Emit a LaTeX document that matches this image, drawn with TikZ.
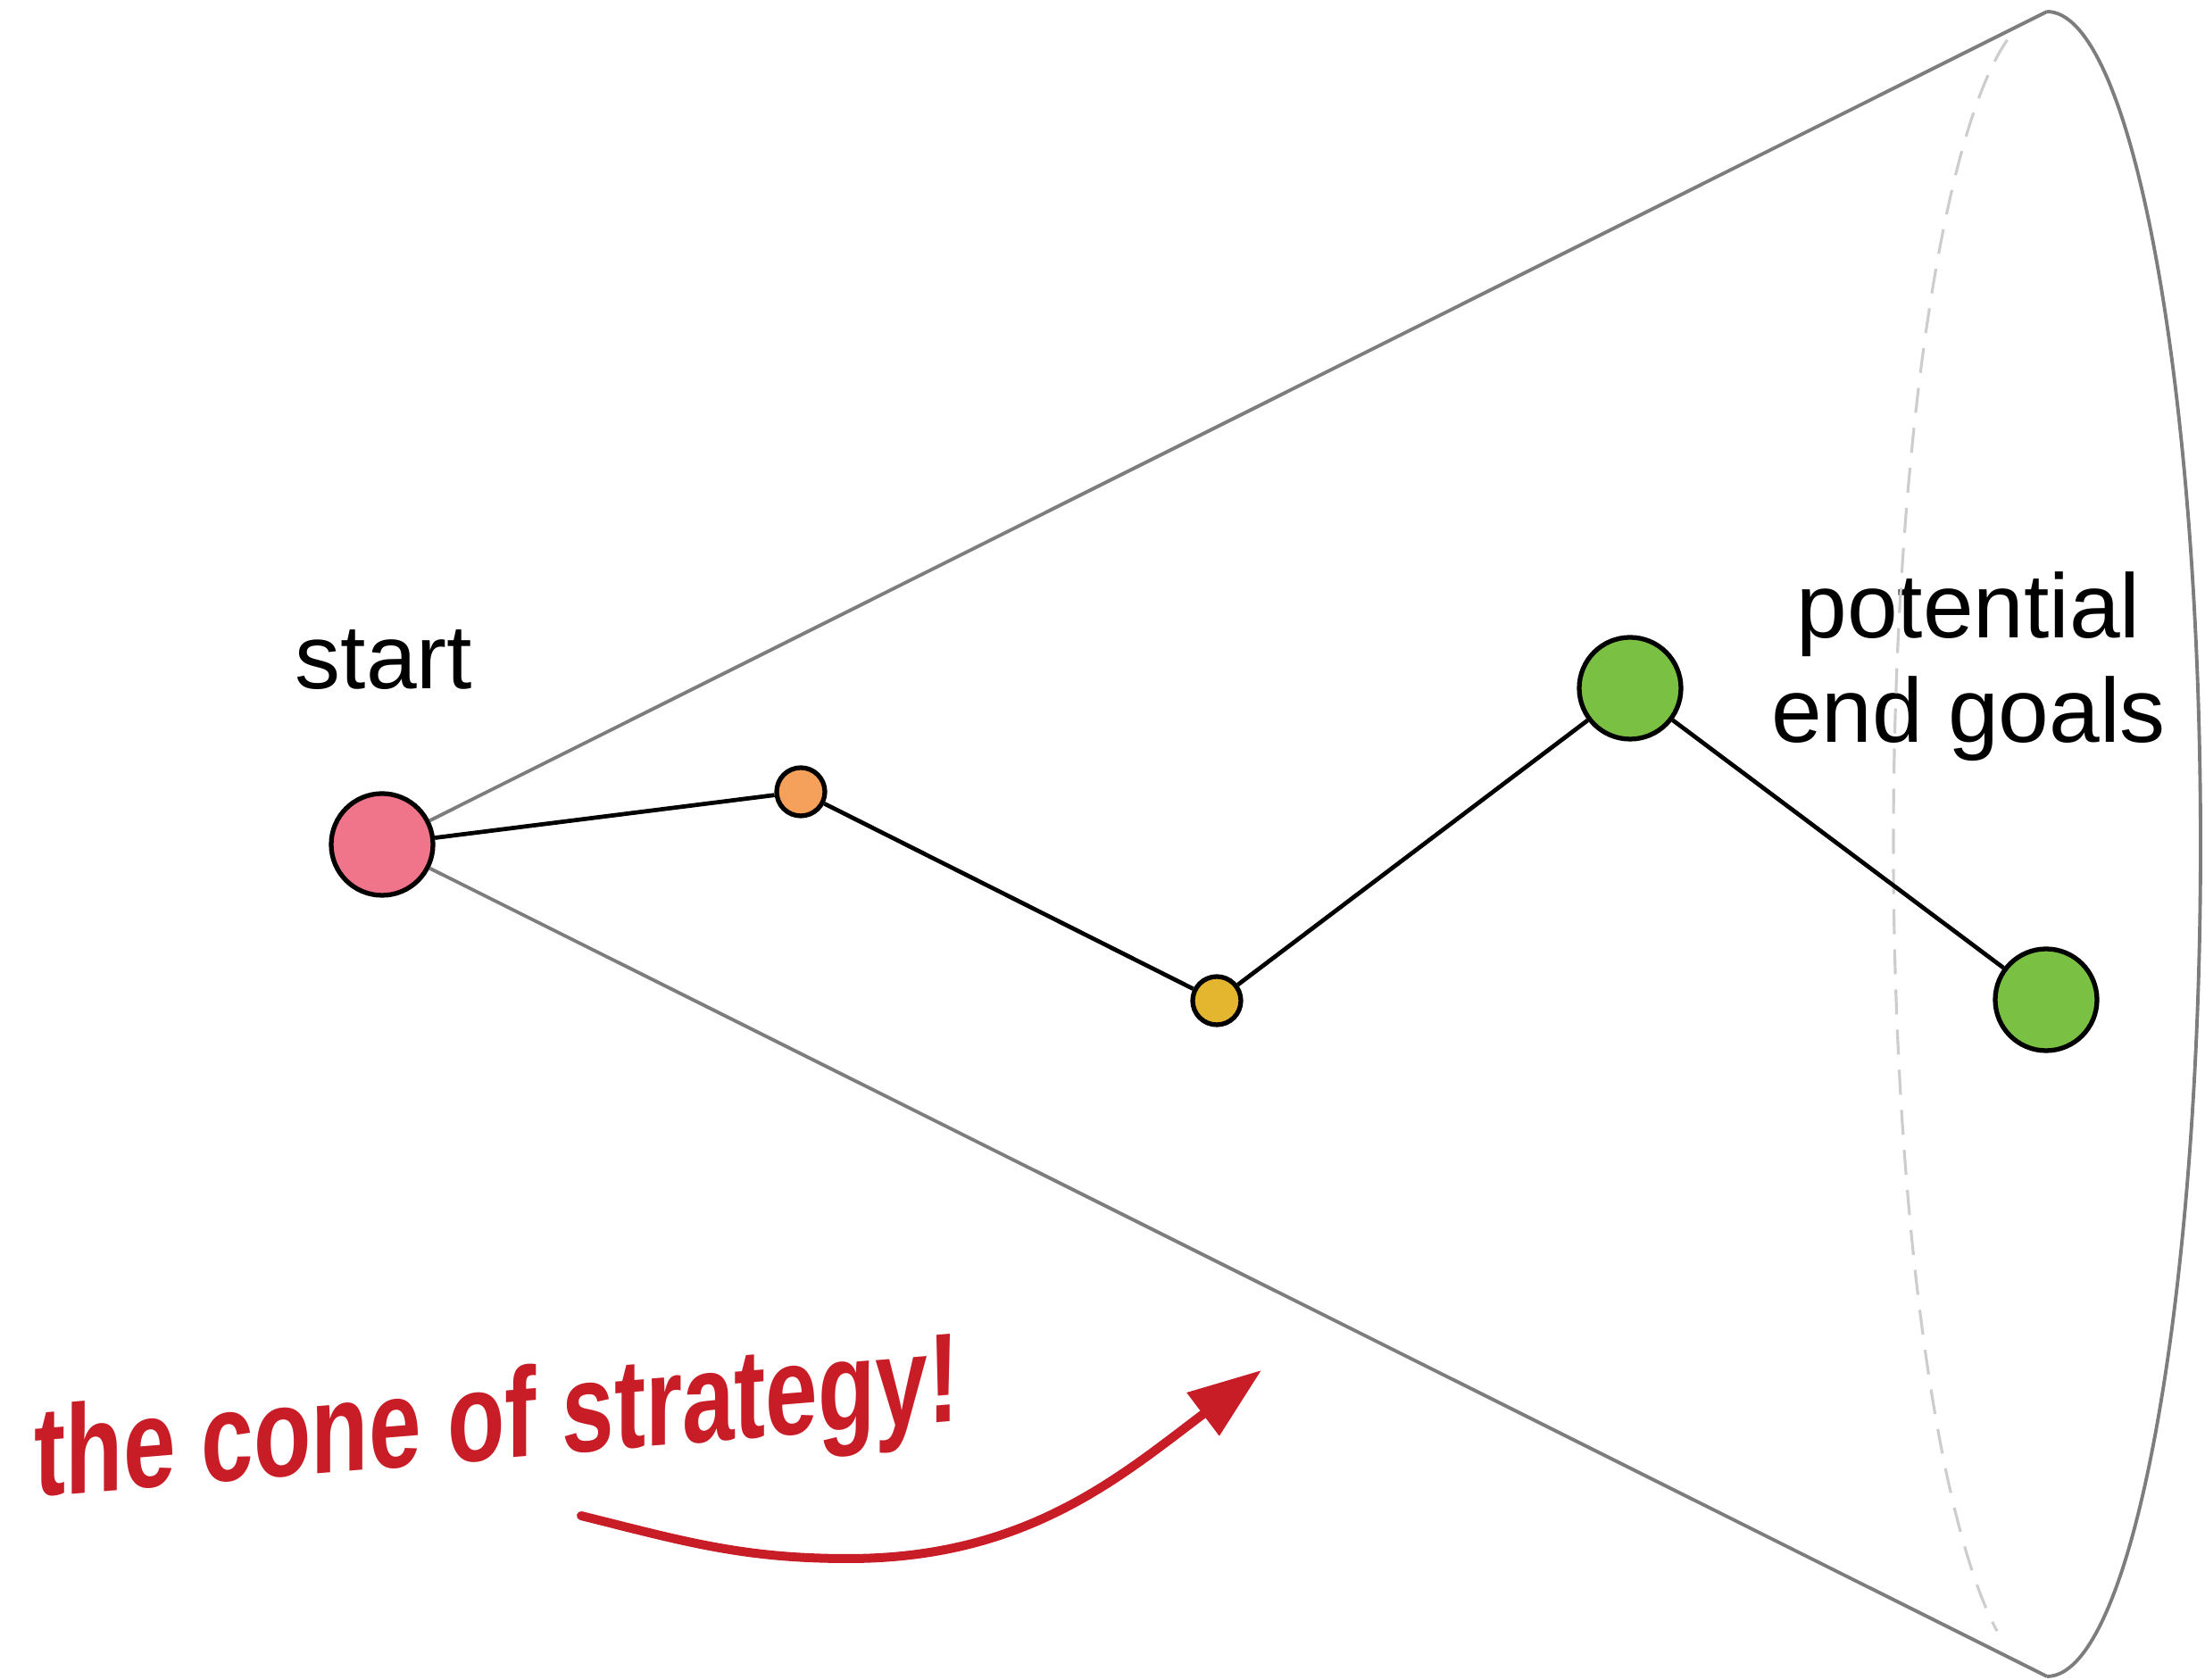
\documentclass[tikz,border=0pt]{standalone}
\usepackage{fontspec}
\setmainfont{Liberation Sans}
\newfontfamily\markerfont{Liberation Sans}[FakeStretch=0.74]
\usepackage{xcolor}
\usepackage{tikz}
\usetikzlibrary{arrows.meta}

\definecolor{startpink}{RGB}{241,117,138}
\definecolor{midorange}{RGB}{246,161,91}
\definecolor{midyellow}{RGB}{228,181,47}
\definecolor{goalgreen}{RGB}{122,193,67}
\definecolor{markerred}{RGB}{200,28,38}

\begin{document}
\begin{tikzpicture}
	\useasboundingbox (0,0) rectangle (24.70,18.82);
						\tikzstyle{vertex}=[circle,draw=black,line width=1.5pt,inner sep=0pt]
						\tikzstyle{big}=[vertex,minimum size=1.14cm]
						\tikzstyle{small}=[vertex,minimum size=0.54cm]
						\tikzstyle{cone}=[draw={rgb,255:red,125;green,125;blue,125},line width=1.1pt,line join=round]
						\tikzstyle{back}=[draw={rgb,255:red,205;green,205;blue,205},line width=0.9pt,dash pattern=on 0.28cm off 0.17cm]
						\tikzstyle{lbl}=[font=\fontsize{29}{33.2}\selectfont,align=center,inner sep=0pt]
						\tikzstyle{redarrow}=[draw=markerred,line width=2.85pt,line cap=round,-{Triangle[length=0.82cm,width=0.58cm]}]
						% path nodes
						\node[big,fill=startpink](start) at (4.28,9.36) {};
						\node[small,fill=midorange](mid1) at (8.97,9.95) {};
						\node[small,fill=midyellow](mid2) at (13.63,7.61) {};
						\node[big,fill=goalgreen](goal1) at (18.26,11.11) {};
						\node[big,fill=goalgreen](goal2) at (22.92,7.62) {};
						\node[lbl,anchor=base](startlbl) at (4.30,11.10) {start};
						\node[lbl](goallbl) at (22.05,11.35) {potential\\end goals};
						% cone
						\coordinate (coneTop) at (22.93,18.69);
						\coordinate (coneBot) at (22.93,0.04);
						\coordinate (rim) at (22.93,9.365);
	   					\draw[back] (rim) ++(105:1.72cm and 9.325cm) arc[start angle=105,end angle=251,x radius=1.72cm,y radius=9.325cm];
	   					\draw[cone] (start) -- (coneTop);
	   					\draw[cone] (start) -- (coneBot);
	   					\draw[cone] (coneTop) arc[start angle=90,end angle=-90,x radius=1.72cm,y radius=9.325cm];
	   					\draw[line width=1.35pt] (start) -- (mid1) -- (mid2) -- (goal1) -- (goal2);
						% the red note
						\begin{scope}[shift={(0.38,2.05)},yslant=0.082]
						\node[anchor=base west,inner sep=0pt,transform shape,text=markerred,font=\markerfont\bfseries\fontsize{40.5}{44}\selectfont](note) at (0,0) {the cone of strategy!};
						\end{scope}
						\coordinate (arrS) at (6.51,1.84);
						\coordinate (arrLow) at (9.50,1.36);
						\coordinate (arrE) at (14.13,3.47);
						\draw[redarrow] (arrS) to[out=-14,in=180] (arrLow) to[out=0,in=217] (arrE);
					\end{tikzpicture}
\end{document}
